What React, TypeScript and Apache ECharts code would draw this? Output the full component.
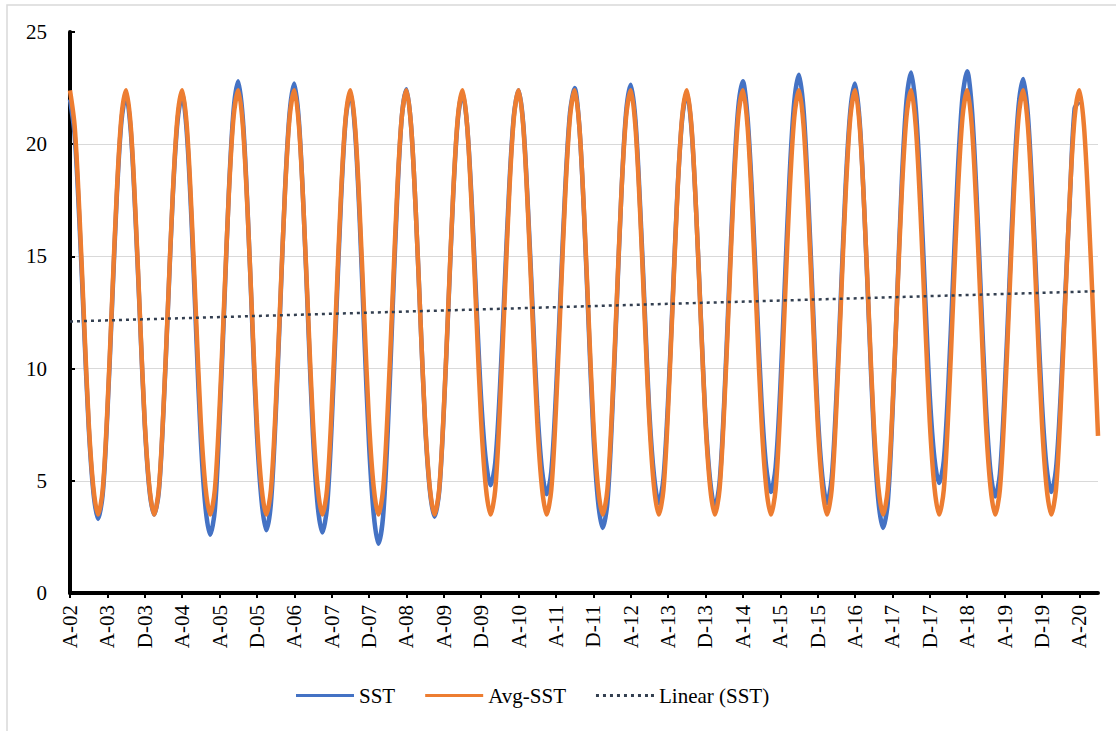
import React, { useEffect, useRef } from "react";
import * as echarts from "echarts";

// Monthly series, first point = Aug 2002, last point = Dec 2020
const START_YEAR = 2002;
const START_MONTH = 8; // August
const MONTH_COUNT = 221;

// Tick labels shown every 8 months (Aug-02, Apr-03, Dec-03, ...)
const TICK_LABELS = [
  "A-02", "A-03", "D-03", "A-04", "A-05", "D-05", "A-06", "A-07", "D-07",
  "A-08", "A-09", "D-09", "A-10", "A-11", "D-11", "A-12", "A-13", "D-13",
  "A-14", "A-15", "D-15", "A-16", "A-17", "D-17", "A-18", "A-19", "D-19", "A-20",
];
const TICK_STEP = 8;

// SST, Aug..Jul per row
const SST = [
  22.0, 20.4, 16.6, 11.9, 7.4, 4.5, 3.3, 4.4, 8.0, 12.8, 17.6, 21.0,
  22.2, 20.6, 16.8, 12.1, 7.5, 4.6, 3.5, 4.5, 8.1, 12.9, 17.7, 21.0,
  22.2, 20.5, 16.6, 11.6, 6.8, 3.8, 2.6, 3.7, 7.6, 12.7, 17.9, 21.5,
  22.8, 21.1, 17.1, 12.0, 7.1, 4.1, 2.8, 4.0, 7.8, 12.8, 17.9, 21.4,
  22.7, 21.0, 17.0, 11.9, 7.0, 3.9, 2.7, 3.8, 7.5, 12.5, 17.5, 21.1,
  22.3, 20.6, 16.6, 11.4, 6.6, 3.5, 2.2, 3.4, 7.2, 12.4, 17.5, 21.2,
  22.45, 20.8, 17.0, 12.2, 7.5, 4.6, 3.4, 4.5, 8.1, 12.9, 17.7, 21.1,
  22.3, 20.8, 17.3, 12.8, 8.6, 5.9, 4.8, 5.8, 9.1, 13.6, 18.1, 21.3,
  22.4, 20.9, 17.2, 12.7, 8.3, 5.5, 4.4, 5.4, 8.9, 13.5, 18.1, 21.4,
  22.5, 20.8, 16.9, 11.9, 7.1, 4.1, 2.9, 4.0, 7.8, 12.8, 17.8, 21.4,
  22.65, 21.1, 17.3, 12.6, 8.0, 5.2, 4.0, 5.1, 8.6, 13.2, 17.9, 21.1,
  22.3, 20.7, 17.0, 12.3, 7.8, 5.0, 3.8, 4.9, 8.5, 13.4, 18.2, 21.6,
  22.8, 21.2, 17.6, 12.9, 8.5, 5.6, 4.5, 5.6, 9.1, 13.9, 18.6, 21.9,
  23.1, 21.5, 17.6, 12.8, 8.1, 5.2, 4.0, 5.1, 8.7, 13.4, 18.2, 21.5,
  22.7, 21.0, 17.0, 12.0, 7.2, 4.1, 2.9, 4.0, 7.9, 13.1, 18.3, 21.9,
  23.2, 21.6, 18.0, 13.3, 8.8, 6.0, 4.9, 5.9, 9.4, 14.1, 18.8, 22.1,
  23.25, 21.6, 17.8, 13.0, 8.4, 5.4, 4.3, 5.3, 8.9, 13.6, 18.4, 21.7,
  22.9, 21.3, 17.6, 12.9, 8.5, 5.6, 4.5, 5.5, 8.8, 13.3, 17.7, 21.6,
  21.9, null, null, null, null,
];

// Avg-SST (monthly climatology), Aug..Jul per row
const AVG_SST = [
  22.4, 20.8, 17.0, 12.2, 7.6, 4.7, 3.5, 4.6, 8.2, 13.0, 17.8, 21.2,
  22.4, 20.8, 17.0, 12.2, 7.6, 4.7, 3.5, 4.6, 8.2, 13.0, 17.8, 21.2,
  22.4, 20.8, 17.0, 12.2, 7.6, 4.7, 3.5, 4.6, 8.2, 13.0, 17.8, 21.2,
  22.4, 20.8, 17.0, 12.2, 7.6, 4.7, 3.5, 4.6, 8.2, 13.0, 17.8, 21.2,
  22.4, 20.8, 17.0, 12.2, 7.6, 4.7, 3.5, 4.6, 8.2, 13.0, 17.8, 21.2,
  22.4, 20.8, 17.0, 12.2, 7.6, 4.7, 3.5, 4.6, 8.2, 13.0, 17.8, 21.2,
  22.4, 20.8, 17.0, 12.2, 7.6, 4.7, 3.5, 4.6, 8.2, 13.0, 17.8, 21.2,
  22.4, 20.8, 17.0, 12.2, 7.6, 4.7, 3.5, 4.6, 8.2, 13.0, 17.8, 21.2,
  22.4, 20.8, 17.0, 12.2, 7.6, 4.7, 3.5, 4.6, 8.2, 13.0, 17.8, 21.2,
  22.4, 20.8, 17.0, 12.2, 7.6, 4.7, 3.5, 4.6, 8.2, 13.0, 17.8, 21.2,
  22.4, 20.8, 17.0, 12.2, 7.6, 4.7, 3.5, 4.6, 8.2, 13.0, 17.8, 21.2,
  22.4, 20.8, 17.0, 12.2, 7.6, 4.7, 3.5, 4.6, 8.2, 13.0, 17.8, 21.2,
  22.4, 20.8, 17.0, 12.2, 7.6, 4.7, 3.5, 4.6, 8.2, 13.0, 17.8, 21.2,
  22.4, 20.8, 17.0, 12.2, 7.6, 4.7, 3.5, 4.6, 8.2, 13.0, 17.8, 21.2,
  22.4, 20.8, 17.0, 12.2, 7.6, 4.7, 3.5, 4.6, 8.2, 13.0, 17.8, 21.2,
  22.4, 20.8, 17.0, 12.2, 7.6, 4.7, 3.5, 4.6, 8.2, 13.0, 17.8, 21.2,
  22.4, 20.8, 17.0, 12.2, 7.6, 4.7, 3.5, 4.6, 8.2, 13.0, 17.8, 21.2,
  22.4, 20.8, 17.0, 12.2, 7.6, 4.7, 3.5, 4.6, 8.2, 13.0, 17.8, 21.2,
  22.4, 20.8, 17.0, 12.2, 7.0,
];

// Linear (SST) trendline end values
const TREND_START = 12.1;
const TREND_END = 13.45;

const SERIES_NAMES = ["SST", "Avg-SST", "Linear (SST)"];
const FONT = "'Liberation Serif', 'Times New Roman', serif";

const SOLID_ICON = "path://M0,0H58V3H0Z";
const DOTTED_ICON =
  "path://M0,0h3v3h-3z M7,0h3v3h-3z M14,0h3v3h-3z M21,0h3v3h-3z M28,0h3v3h-3z M35,0h3v3h-3z M42,0h3v3h-3z M49,0h3v3h-3z M55,0h3v3h-3z";

export default function App() {
  const ref = useRef<HTMLDivElement | null>(null);

  useEffect(() => {
    if (!ref.current) return;
    const chart = echarts.init(ref.current, null, { renderer: "svg" });

    const months: string[] = [];
    for (let i = 0; i < MONTH_COUNT; i++) {
      const m0 = START_MONTH - 1 + i;
      const y = START_YEAR + Math.floor(m0 / 12);
      const m = (m0 % 12) + 1;
      months.push(`${y}-${m < 10 ? "0" + m : m}`);
    }
    const trend: (number | null)[] = months.map(() => null);
    trend[0] = TREND_START;
    trend[MONTH_COUNT - 1] = TREND_END;

    const showTick = (index: number) => index % TICK_STEP === 0;

    chart.setOption({
      animation: false,
      backgroundColor: "#ffffff",
      graphic: [
        {
          type: "rect",
          shape: { x: 7, y: 5, width: 1130, height: 760 },
          style: { fill: "none", stroke: "#D9D9D9", lineWidth: 1.5 },
          silent: true,
        },
      ],
      grid: { left: 70, right: 18, top: 32, bottom: 138, containLabel: false },
      legend: {
        data: [
          { name: SERIES_NAMES[0], icon: SOLID_ICON },
          { name: SERIES_NAMES[1], icon: SOLID_ICON },
          { name: SERIES_NAMES[2], icon: DOTTED_ICON },
        ],
        left: 291,
        top: 680,
        itemWidth: 58,
        itemHeight: 3,
        itemGap: 30,
        textStyle: { fontFamily: FONT, fontSize: 21, color: "#000" },
      },
      xAxis: {
        type: "category",
        data: months,
        boundaryGap: false,
        axisLine: { show: true, lineStyle: { color: "#000", width: 4 } },
        axisTick: {
          show: true,
          interval: showTick,
          length: 5,
          lineStyle: { color: "#000", width: 2 },
        },
        axisLabel: {
          interval: showTick,
          formatter: (_v: string, index: number) => TICK_LABELS[index / TICK_STEP] ?? "",
          rotate: 90,
          margin: 12,
          fontFamily: FONT,
          fontSize: 21,
          color: "#000",
        },
        splitLine: { show: false },
      },
      yAxis: {
        type: "value",
        min: 0,
        max: 25,
        interval: 5,
        axisLine: { show: true, lineStyle: { color: "#000", width: 4 } },
        axisTick: { show: true, inside: true, length: 5, lineStyle: { color: "#000", width: 2 } },
        axisLabel: { margin: 23, fontFamily: FONT, fontSize: 21, color: "#000" },
        splitLine: {
          show: true,
          showMaxLine: false,
          lineStyle: { color: "#D9D9D9", width: 1.2 },
        },
      },
      series: [
        {
          name: "SST",
          type: "line",
          data: SST,
          symbol: "none",
          smooth: 0.3,
          z: 2,
          lineStyle: { color: "#4472C4", width: 4.5 },
          itemStyle: { color: "#4472C4" },
        },
        {
          name: "Avg-SST",
          type: "line",
          data: AVG_SST,
          symbol: "none",
          smooth: 0.3,
          z: 3,
          lineStyle: { color: "#ED7D31", width: 4.5 },
          itemStyle: { color: "#ED7D31" },
        },
        {
          name: "Linear (SST)",
          type: "line",
          data: trend,
          connectNulls: true,
          symbol: "none",
          z: 4,
          lineStyle: { color: "#333F50", width: 2.5, type: [3, 4] },
          itemStyle: { color: "#333F50" },
        },
      ],
    });

    return () => chart.dispose();
  }, []);

  return (
    <div
      ref={ref}
      style={{ position: "absolute", left: 0, top: 0, width: 1116, height: 731 }}
    />
  );
}
